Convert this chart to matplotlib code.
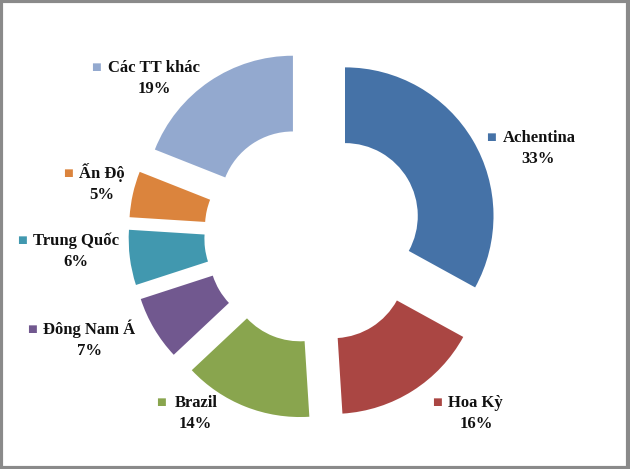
import matplotlib
matplotlib.use("Agg")
import matplotlib.pyplot as plt
from matplotlib.patches import Rectangle

# market shares, clockwise from 12 o'clock
names = ["Achentina", "Hoa Kỳ", "Brazil", "Đông Nam Á", "Trung Quốc", "Ấn Độ", "Các TT khác"]
shares = [33, 16, 14, 7, 6, 5, 19]
colors = ["#4572A7", "#AA4643", "#89A54E", "#71588F", "#4198AF", "#DB843D", "#93A9CF"]

W, H = 630, 469
fig = plt.figure(figsize=(W / 100, H / 100), dpi=100)
ax = fig.add_axes([0, 0, 1, 1])
ax.set_xlim(0, W)
ax.set_ylim(H, 0)
ax.axis("off")

# work in pixel units; pie drawn on a second axes with normal y direction
pax = fig.add_axes([0, 0, 1, 1])
R = 148.5
cx, cy = 313.5, H - 234.5
pax.pie(shares, colors=colors, startangle=90, counterclock=False,
        radius=R, center=(cx, cy), explode=[36.6] * len(shares),
        wedgeprops=dict(width=R * 0.51, linewidth=0), frame=True)
pax.set_xlim(0, W)
pax.set_ylim(0, H)
pax.set_aspect("auto")
pax.axis("off")

# label layout in pixels: name left x, name y, percent centre x, square centre x
name_x = [503, 448, 175, 43, 33, 79, 108]
name_y = [137, 402, 402, 329, 240, 173, 67]
pct_x = [538, 476, 195, 90, 76, 102, 154]
sq_x = [491, 437, 161, 32, 22, 68, 96]

font = dict(family=["Liberation Serif", "DejaVu Serif"], fontweight="bold", fontsize=12,
            color="#111111")
for n, s, c, nx, ny, px, sx in zip(names, shares, colors, name_x, name_y, pct_x, sq_x):
    ax.text(nx, ny + 5, n, ha="left", va="baseline", **font)
    ax.text(px, ny + 26, f"{s}%", ha="center", va="baseline", **font)
    ax.text(sx, ny, "■", ha="center", va="center", color=c,
            family="DejaVu Sans", fontsize=7.5)

fig.patches.append(Rectangle((0.002, 0.003), 0.995, 0.994, transform=fig.transFigure,
                             fill=False, edgecolor="#8a8a8a", linewidth=3))

fig.savefig("out.png", dpi=100)
